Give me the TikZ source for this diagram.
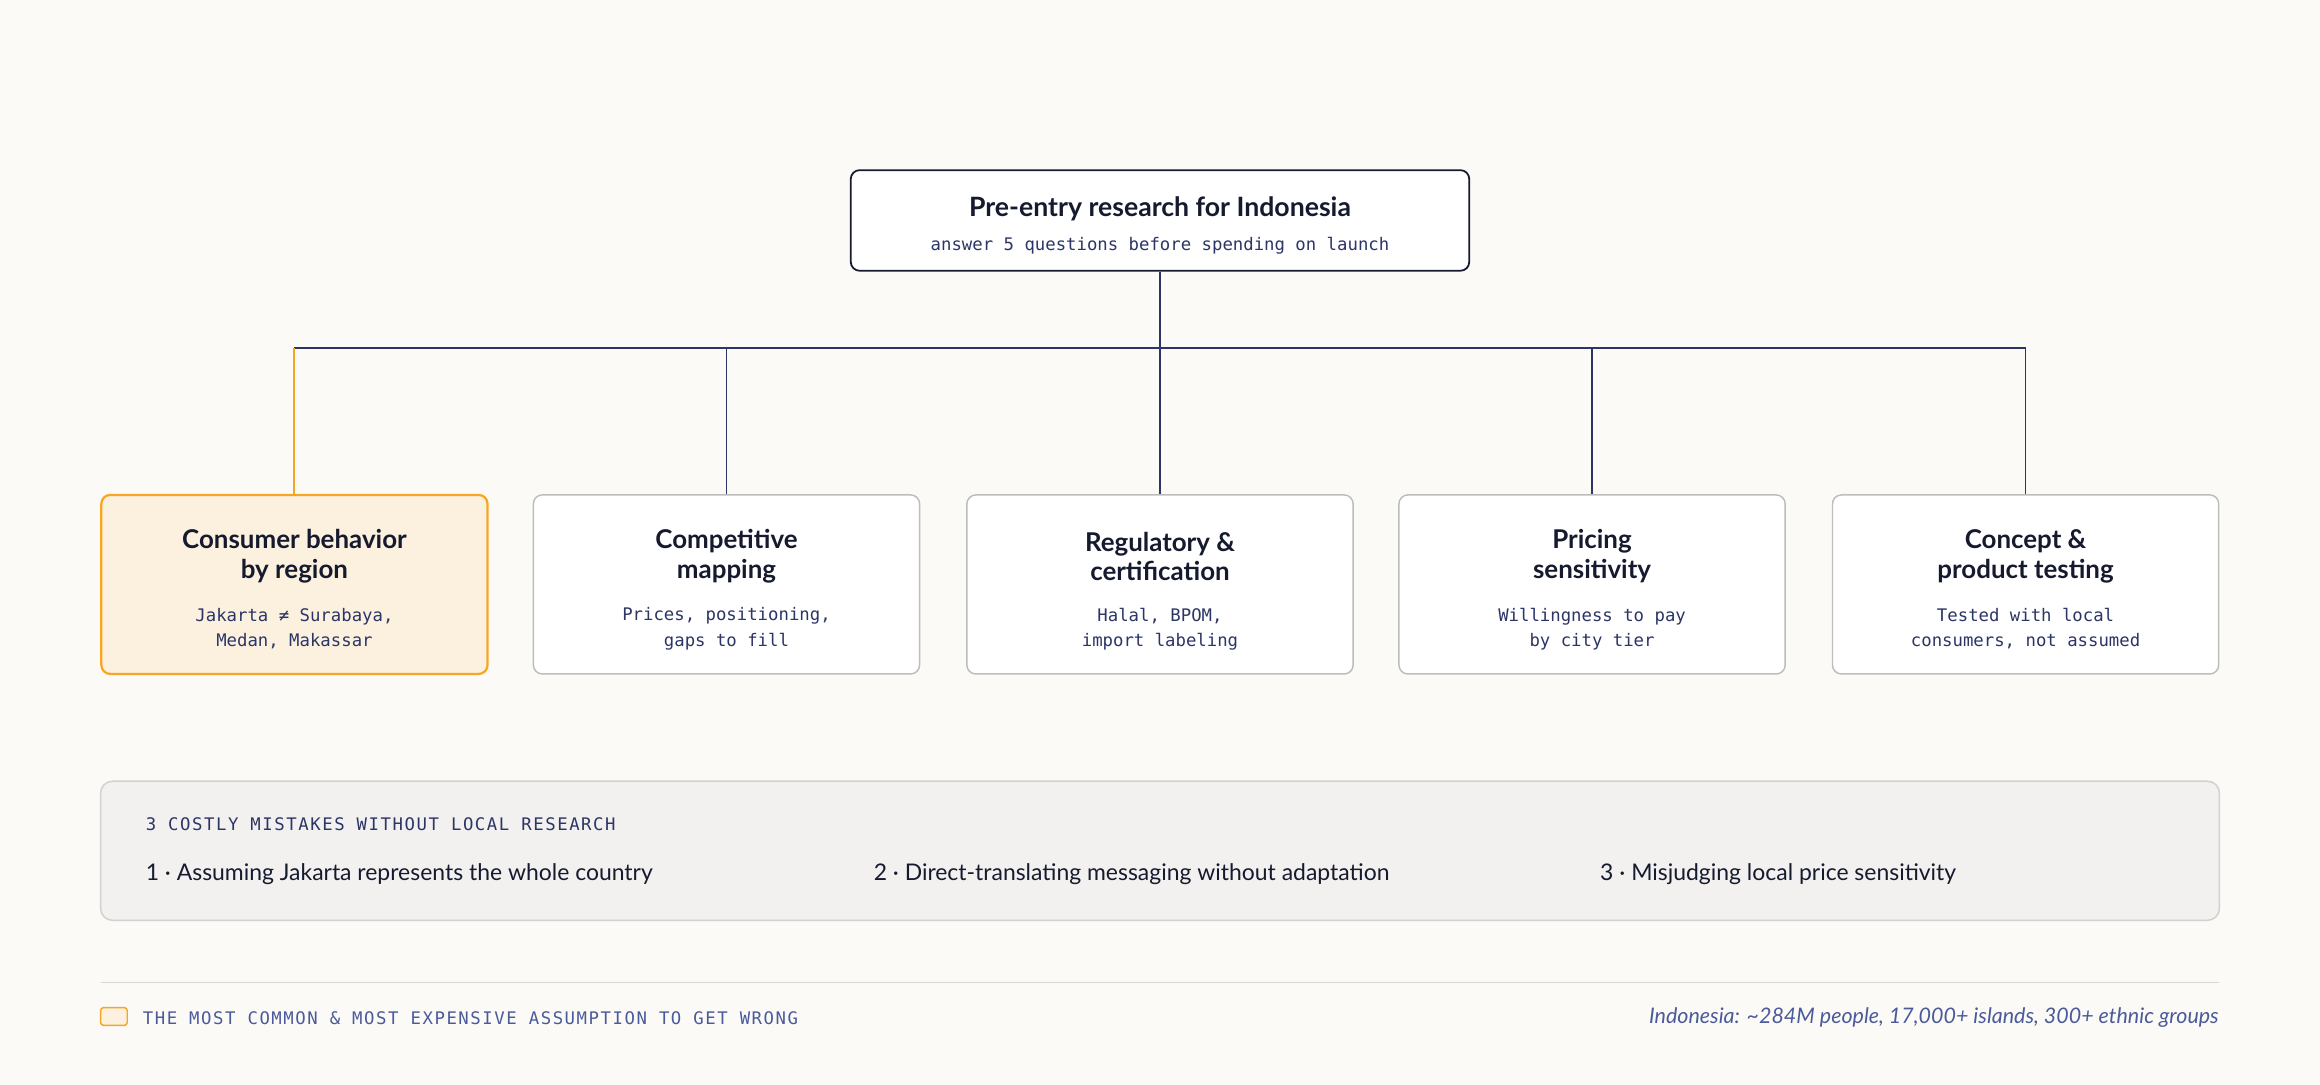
\documentclass[tikz,border=0pt]{standalone}
\usepackage{fontspec}
\setmainfont{Lato}
\newfontfamily\monofont{DejaVu Sans Mono}
\newfontfamily\capsfont[LetterSpace=9]{DejaVu Sans Mono}
\usetikzlibrary{positioning}
\definecolor{paper}{HTML}{FBFAF6}
\definecolor{ink}{HTML}{161A2E}
\definecolor{navy}{HTML}{2B3566}
\definecolor{slate}{HTML}{4A5A9A}
\definecolor{gold}{HTML}{F5A623}
\definecolor{cream}{HTML}{FCF1DF}
\definecolor{panel}{HTML}{F2F1EF}
\definecolor{rim}{HTML}{BDBDBD}
\begin{document}
\begin{tikzpicture}[
        x = 1pt, y = -1pt, % pixel-like grid
        link/.style = {draw = navy, line width = 1.1pt},
        hot/.style = {draw = gold, line width = 1.4pt},
        card/.style = {draw = rim, fill = white, rounded corners = 6pt,
            line width = 1pt, minimum width = 261pt, minimum height = 121pt},
        topcard/.style = {draw = ink, fill = white, rounded corners = 6pt,
            line width = 1.2pt, minimum width = 418pt, minimum height = 68pt},
        head/.style = {font = \fontsize{17.5}{20}\selectfont\bfseries, text = ink, align = center},
        note/.style = {font = \monofont\fontsize{11.7}{17}\selectfont, text = navy, align = center},
        item/.style = {anchor = west, text = ink, font = \fontsize{15.5}{18}\selectfont}
    ]

    \fill[paper] (0,0) rectangle (1568,733);

    % Root
    \node[topcard] (root) at (784,149) {};
    \node[head, font = \fontsize{18}{20}\selectfont\bfseries] (rootT) at (784,141) {Pre-entry research for Indonesia};
    \node[note] (rootS) at (784,166) {answer 5 questions before spending on launch};

    % Cards
    \node[card, draw = gold, fill = cream, line width = 1.5pt] (c1) at (199,395) {};
    \node[card] (c2) at (491,395) {};
    \node[card] (c3) at (784,395) {};
    \node[card] (c4) at (1076,395) {};
    \node[card] (c5) at (1369,395) {};

    \node[head] at (199,376) {Consumer behavior\\by region};
    \node[note] at (199,425) {Jakarta ≠ Surabaya,\\Medan, Makassar};
    \node[head] at (491,376) {Competitive\\mapping};
    \node[note] at (491,425) {Prices, positioning,\\gaps to fill};
    \node[head] at (784,376) {Regulatory \&\\certification};
    \node[note] at (784,425) {Halal, BPOM,\\import labeling};
    \node[head] at (1076,376) {Pricing\\sensitivity};
    \node[note] at (1076,425) {Willingness to pay\\by city tier};
    \node[head] at (1369,376) {Concept \&\\product testing};
    \node[note] at (1369,425) {Tested with local\\consumers, not assumed};

    % Tree
    \coordinate (barL) at (199,235);
    \coordinate (barR) at (1369,235);
    \draw[link] (root.south) -- (root.south |- barL);
    \draw[link] (barL) -- (barR);
    \draw[hot] (barL) -- (c1.north);
    \draw[link] (c2.north |- barL) -- (c2.north);
    \draw[link] (c3.north |- barL) -- (c3.north);
    \draw[link] (c4.north |- barL) -- (c4.north);
    \draw[link] (barR) -- (c5.north);

    % Mistakes panel
    \draw[rim!70, fill = panel, rounded corners = 8pt, line width = 1pt] (68,528) rectangle (1500,622);
    \node[anchor = west, text = navy, font = \capsfont\fontsize{11.7}{13}\selectfont] (mh) at (95,557) {3 COSTLY MISTAKES WITHOUT LOCAL RESEARCH};
    \node[item] (m1) at (95,591) {1 · Assuming Jakarta represents the whole country};
    \node[item] (m2) at (587,591) {2 · Direct-translating messaging without adaptation};
    \node[item] (m3) at (1078,591) {3 · Misjudging local price sensitivity};

    % Footer
    \draw[rim!60, line width = 1pt] (68,664) -- (1500,664);
    \draw[gold, fill = cream, rounded corners = 2pt, line width = 1pt] (68,681) rectangle (86,693);
    \node[anchor = west, text = slate, font = \capsfont\fontsize{11.7}{13}\selectfont] (key) at (93,688) {THE MOST COMMON \& MOST EXPENSIVE ASSUMPTION TO GET WRONG};
    \node[anchor = east, text = slate, font = \fontsize{14.5}{16}\selectfont\itshape] (fact) at (1503,688) {Indonesia: \textasciitilde284M people, 17,000+ islands, 300+ ethnic groups};
\end{tikzpicture}
\end{document}
